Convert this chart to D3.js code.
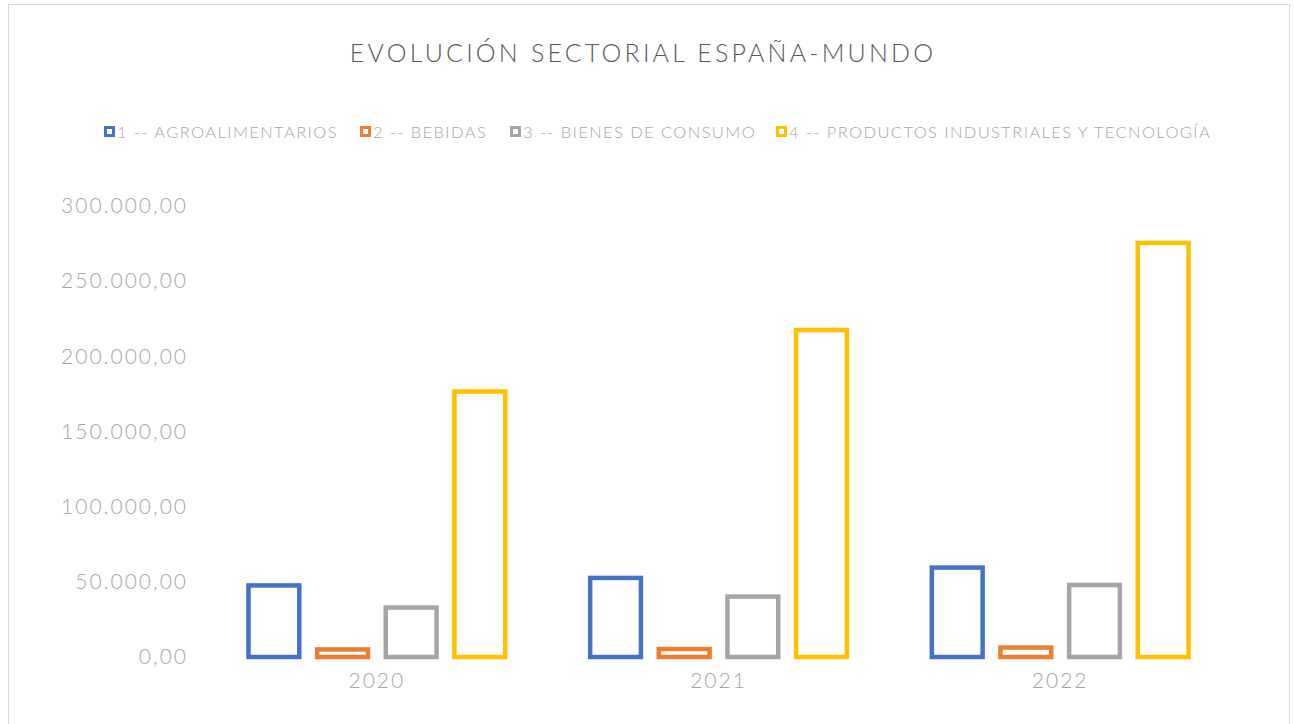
<!DOCTYPE html>
<html lang="es">
<head>
    <meta charset="UTF-8">
    <title>Evolución sectorial España-Mundo</title>
    <script src="https://cdn.jsdelivr.net/npm/d3@7"></script>
    <style>
        body { margin: 0; background: #fff; font-family: Lato, "Open Sans", sans-serif; }
    </style>
</head>
<body>
    <div id="chart"></div>
    <script>
        const years = ["2020", "2021", "2022"];
        const sectors = [
            "1 -- AGROALIMENTARIOS",
            "2 -- BEBIDAS",
            "3 -- BIENES DE CONSUMO",
            "4 -- PRODUCTOS INDUSTRIALES Y TECNOLOGÍA"
        ];
        const agro = [47600, 52600, 59500];
        const bebidas = [5000, 5300, 6300];
        const consumo = [32900, 40200, 47900];
        const industriales = [176600, 217500, 275400];
        const yTicks = [0, 50000, 100000, 150000, 200000, 250000, 300000];
        const colors = ["#4472C4", "#ED7D31", "#A5A5A5", "#FFC000"];

        const seriesValues = [agro, bebidas, consumo, industriales];
        const rows = [];
        years.forEach((yr, i) => {
            sectors.forEach((s, j) => rows.push({ year: yr, sector: s, value: seriesValues[j][i] }));
        });

        const W = 1294, H = 724;
        const svg = d3.select("#chart").append("svg")
            .attr("width", W)
            .attr("height", H);

        svg.append("rect")
            .attr("x", 8.5).attr("y", 4.5)
            .attr("width", 1281).attr("height", 740)
            .attr("fill", "#fff")
            .attr("stroke", "#d9d9d9");

        svg.append("text")
            .attr("x", 643).attr("y", 62)
            .attr("text-anchor", "middle")
            .attr("fill", "#595959")
            .attr("font-size", 25)
            .attr("font-weight", 300)
            .attr("letter-spacing", 3.2)
            .text("EVOLUCIÓN SECTORIAL ESPAÑA-MUNDO");

        // legend
        const legendX = [104, 360, 510, 776];
        const legend = svg.append("g");
        sectors.forEach((s, j) => {
            const g = legend.append("g").attr("transform", `translate(${legendX[j]},126)`);
            g.append("rect")
                .attr("x", 1.5).attr("y", 1.5)
                .attr("width", 8).attr("height", 8)
                .attr("fill", "#fff")
                .attr("stroke", colors[j])
                .attr("stroke-width", 3);
            g.append("text")
                .attr("x", 13).attr("y", 11.5)
                .attr("fill", "#a6a6a6")
                .attr("font-size", 16.5)
                .attr("font-weight", 300)
                .attr("letter-spacing", 1.4)
                .text(s);
        });

        const x0 = d3.scaleBand().domain(years).range([206, 1231]);
        const x1 = d3.scaleBand().domain(sectors).range([42.5, 299.2]).paddingInner(0.26);
        const y = d3.scaleLinear().domain([0, 300000]).range([657, 206]);

        const es = d3.formatLocale({ decimal: ",", thousands: ".", grouping: [3], currency: ["", "€"] });
        const fmt = es.format(",.2f");

        const yAxis = svg.append("g")
            .attr("transform", "translate(188,0)")
            .call(d3.axisLeft(y).tickValues(yTicks).tickFormat(fmt).tickSize(0).tickPadding(0));
        yAxis.select(".domain").remove();
        yAxis.selectAll("text")
            .attr("fill", "#a6a6a6")
            .attr("font-size", 21)
            .attr("font-weight", 300)
            .attr("letter-spacing", 2)
            .attr("font-family", "Lato, 'Open Sans', sans-serif");

        const xAxis = svg.append("g")
            .attr("transform", "translate(0,657)")
            .call(d3.axisBottom(x0).tickSize(0).tickPadding(12));
        xAxis.select(".domain").remove();
        xAxis.selectAll("text")
            .attr("fill", "#a6a6a6")
            .attr("font-size", 21)
            .attr("font-weight", 300)
            .attr("letter-spacing", 2)
            .attr("font-family", "Lato, 'Open Sans', sans-serif")
            .attr("dy", "0.9em");

        const color = d3.scaleOrdinal().domain(sectors).range(colors);

        svg.append("g").selectAll("rect")
            .data(rows)
            .join("rect")
            .attr("x", d => x0(d.year) + x1(d.sector))
            .attr("y", d => y(d.value))
            .attr("width", x1.bandwidth())
            .attr("height", d => y(0) - y(d.value))
            .attr("fill", "#fff")
            .attr("stroke", d => color(d.sector))
            .attr("stroke-width", 4.5);
    </script>
</body>
</html>
